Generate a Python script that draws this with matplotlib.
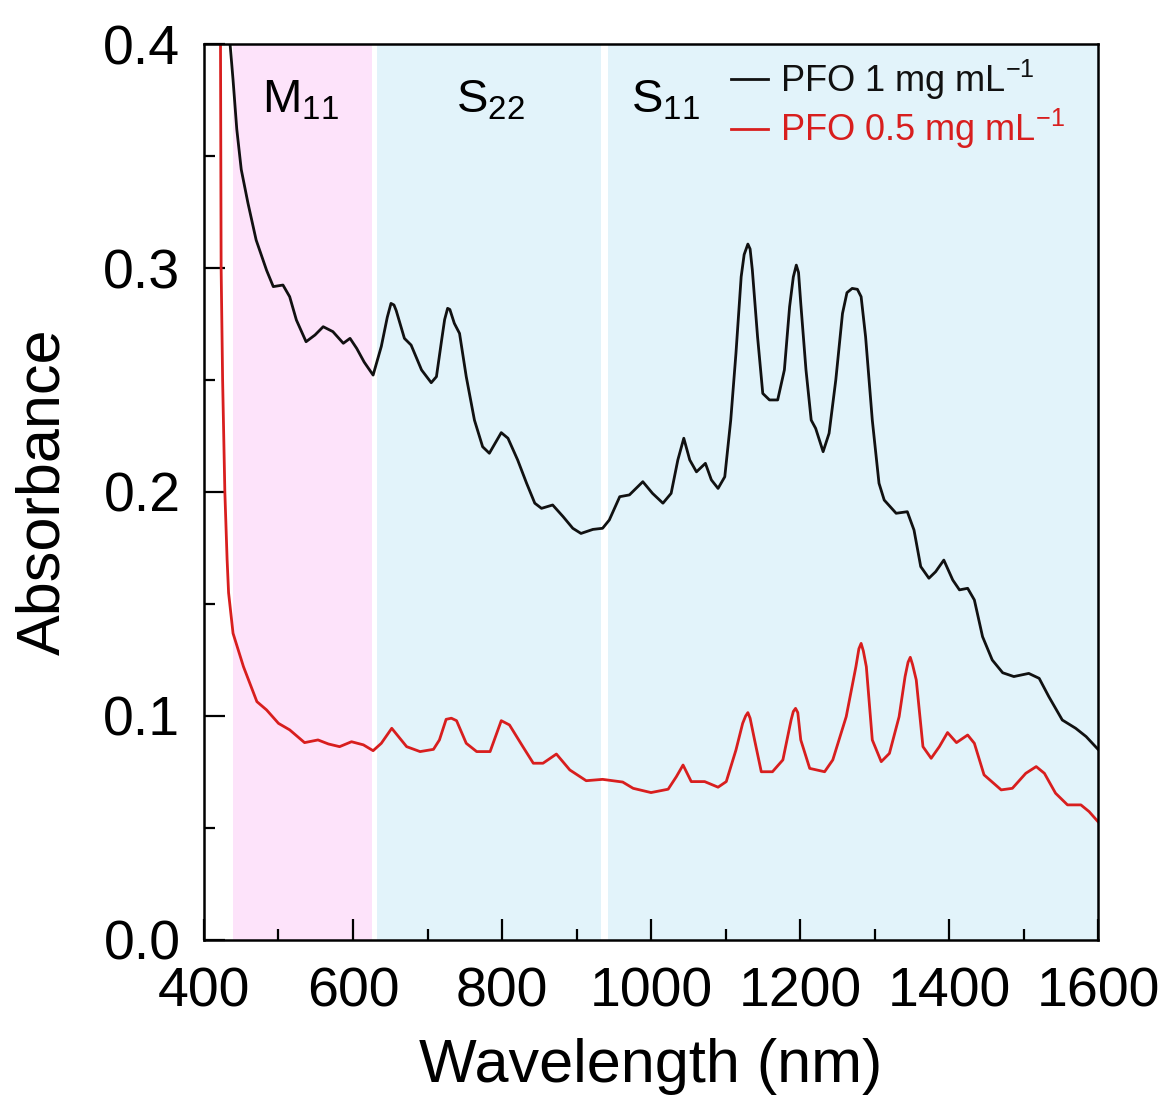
import matplotlib
matplotlib.use("Agg")
import matplotlib.pyplot as plt
from matplotlib.ticker import MultipleLocator
import numpy as np

plt.rcParams['font.family'] = ['Liberation Sans', 'DejaVu Sans']
plt.rcParams['mathtext.default'] = 'regular'

# absorption spectra, wavelength in nm
pfo_1_nm = [425, 430, 435, 439, 444, 450, 459, 470, 484, 493, 506, 515, 524, 537, 549,
            560, 573, 587, 596, 605, 615, 627, 638, 646, 651, 655, 658, 669, 678, 692, 705, 712,
            719, 723, 727, 730, 736, 743, 752, 763, 774, 783, 799, 808, 821, 833, 844, 853, 868,
            882, 895, 906, 922, 935, 944, 958, 971, 989, 1002, 1016, 1027, 1036, 1044, 1052,
            1061, 1073, 1081, 1090, 1099, 1107, 1114, 1121, 1125, 1130, 1133, 1136, 1143, 1150, 1159, 1170, 1179,
            1186, 1191, 1195, 1198, 1201, 1208, 1215, 1221, 1231, 1239, 1248, 1257, 1263, 1270, 1277, 1282, 1288,
            1297, 1306, 1313, 1329, 1344, 1353, 1362, 1373, 1382, 1393, 1405, 1414, 1425, 1434, 1445,
            1458, 1472, 1487, 1507, 1521, 1534, 1552, 1570, 1584, 1600]
pfo_1_abs = [0.46, 0.42, 0.400, 0.384, 0.362, 0.344, 0.329, 0.3125, 0.299, 0.2917, 0.2924, 0.2872, 0.2768, 0.2671, 0.2701,
             0.2738, 0.2716, 0.2664, 0.2686, 0.2641, 0.258, 0.2522, 0.265, 0.278, 0.2842, 0.2835, 0.281, 0.2686, 0.2656, 0.2545, 0.2488, 0.2515,
             0.2679, 0.277, 0.282, 0.2815, 0.2753, 0.2708, 0.2515, 0.2321, 0.2202, 0.2173, 0.2265, 0.224, 0.2143, 0.2039, 0.195, 0.1927, 0.1942,
             0.189, 0.1838, 0.1815, 0.1833, 0.1838, 0.1875, 0.1979, 0.1987, 0.2046, 0.1994, 0.195, 0.1994, 0.2143, 0.224, 0.2143,
             0.209, 0.2128, 0.2054, 0.2016, 0.2068, 0.2321, 0.2619, 0.2961, 0.306, 0.3107, 0.3085, 0.2991, 0.2693, 0.244, 0.2411, 0.2411, 0.2545,
             0.2827, 0.296, 0.3013, 0.298, 0.2842, 0.2545, 0.2321, 0.2284, 0.218, 0.2262, 0.25, 0.2797, 0.289, 0.2909, 0.2905, 0.2872, 0.2693,
             0.2321, 0.2039, 0.1964, 0.1905, 0.1912, 0.183, 0.1667, 0.1615, 0.1644, 0.1696, 0.1607, 0.1563, 0.157, 0.1518, 0.1354,
             0.125, 0.1193, 0.1176, 0.119, 0.1168, 0.1086, 0.0982, 0.0945, 0.0908, 0.0851]

pfo_05_nm = [422, 423, 425, 428, 431, 433, 439, 453, 471, 484, 500, 515, 535, 553, 567,
             582, 598, 614, 627, 638, 652, 672, 690, 708, 716, 725, 732, 739, 752, 766,
             784, 799, 810, 828, 842, 855, 873, 891, 913, 935, 962, 976, 1000, 1023, 1034,
             1043, 1054, 1072, 1090, 1101, 1114, 1123, 1127, 1130, 1133, 1139, 1148, 1163, 1177, 1188, 1191, 1194, 1197, 1201,
             1213, 1233, 1244, 1262, 1275, 1279, 1282, 1285, 1289, 1297, 1309, 1320, 1333, 1341, 1345, 1348, 1351, 1356, 1365,
             1376, 1387, 1398, 1410, 1425, 1434, 1447, 1470, 1485, 1503, 1517, 1528, 1543, 1559, 1577,
             1588, 1600]
pfo_05_abs = [0.42, 0.30, 0.25, 0.20, 0.17, 0.155, 0.1369, 0.122, 0.1064, 0.1027, 0.0967, 0.0938, 0.0881, 0.0893, 0.0875,
              0.0863, 0.0885, 0.0871, 0.0845, 0.0878, 0.0945, 0.0863, 0.0841, 0.0851, 0.0893, 0.0985, 0.099, 0.0979, 0.0878, 0.0841,
              0.0841, 0.0979, 0.096, 0.0863, 0.0789, 0.0789, 0.083, 0.0759, 0.0711, 0.0717, 0.0705, 0.0677, 0.0658, 0.0673, 0.0729,
              0.0781, 0.0707, 0.0707, 0.0682, 0.0707, 0.0848, 0.0967, 0.100, 0.1015, 0.099, 0.0893, 0.0751, 0.0751, 0.0804, 0.0982, 0.102, 0.1034, 0.1015, 0.0893,
              0.0766, 0.0751, 0.0804, 0.0997, 0.122, 0.130, 0.1324, 0.129, 0.122, 0.0893, 0.0796, 0.0833, 0.0997, 0.1176, 0.124, 0.1262, 0.123, 0.1161, 0.0863,
              0.0811, 0.0863, 0.0926, 0.0881, 0.0915, 0.0878, 0.0737, 0.067, 0.0677, 0.0744, 0.0774, 0.0744, 0.0655, 0.0603, 0.0603,
              0.0573, 0.0528]

assert len(pfo_1_nm) == len(pfo_1_abs)
assert len(pfo_05_nm) == len(pfo_05_abs)

# transition bands (start, end, colour)
bands = [(439, 625, '#fde3fa'), (632, 933, '#e2f3fa'), (942, 1600, '#e2f3fa')]
band_labels = ['M$_{11}$', 'S$_{22}$', 'S$_{11}$']
band_label_x = [530, 785, 1020]

fig = plt.figure(figsize=(11.69, 11.04), dpi=100)
ax = fig.add_axes([0.1745, 0.1486, 0.9393 - 0.1745, 0.9601 - 0.1486])

for start, end, col in bands:
    ax.axvspan(start, end, color=col, lw=0, zorder=0)

ax.plot(pfo_1_nm, pfo_1_abs, color='#111111', lw=2.0, label='PFO 1 mg mL$^{-1}$', zorder=3)
ax.plot(pfo_05_nm, pfo_05_abs, color='#d81e1e', lw=2.0, label='PFO 0.5 mg mL$^{-1}$', zorder=3)

for lab, xpos in zip(band_labels, band_label_x):
    ax.text(xpos, 0.375, lab, fontsize=34, ha='center', va='center', zorder=4)

ax.set_xlim(400, 1600)
ax.set_ylim(0, 0.4)
ax.xaxis.set_major_locator(MultipleLocator(200))
ax.xaxis.set_minor_locator(MultipleLocator(100))
ax.yaxis.set_major_locator(MultipleLocator(0.1))
ax.yaxis.set_minor_locator(MultipleLocator(0.05))
ax.yaxis.set_major_formatter(plt.FormatStrFormatter('%.1f'))
ax.tick_params(which='both', direction='in', width=1.6, labelsize=40)
ax.tick_params(axis='x', which='major', pad=19)
ax.tick_params(axis='y', which='major', pad=17)
ax.tick_params(which='major', length=15)
ax.tick_params(which='minor', length=8)
for sp in ax.spines.values():
    sp.set_linewidth(1.8)
    sp.set_zorder(5)

ax.set_xlabel('Wavelength (nm)', fontsize=44, labelpad=14)
ax.set_ylabel('Absorbance', fontsize=44, labelpad=22)

leg = ax.legend(loc='upper left', bbox_to_anchor=(0.59, 0.985), frameon=False,
                fontsize=26, handlelength=1.0, handletextpad=0.35,
                labelspacing=0.15, borderpad=0, borderaxespad=0)
for txt, line in zip(leg.get_texts(), leg.get_lines()):
    txt.set_color(line.get_color())

fig.savefig('out.png', dpi=100)
